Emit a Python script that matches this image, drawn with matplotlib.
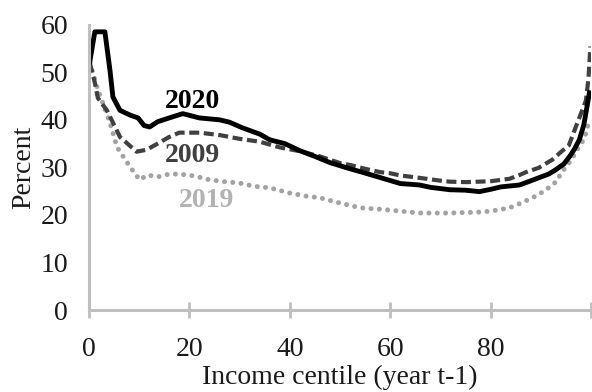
import numpy as np
import matplotlib
matplotlib.use("Agg")
import matplotlib.pyplot as plt

# share of people in each income centile, by year
c2020 = [0.2, 1.2, 3.2, 4.2, 4.8, 6.2, 8.2, 9.8, 11.0, 12.1, 13.7, 16.0, 18.7,
         22.0, 26.0, 28.0, 30.6, 34.0, 36.0, 39.0, 42.0, 45.0, 48.0, 52.0, 55.0,
         58.8, 62.0, 65.8, 68.0, 71.8, 75.0, 77.7, 80.0, 82.0, 85.7, 87.5, 89.5,
         91.5, 92.9, 94.5, 95.6, 96.6, 97.6, 98.5, 99.0, 99.6]
v2020 = [52.2, 58.5, 58.5, 50.5, 44.8, 42.0, 41.0, 40.4, 38.8, 38.5, 39.6, 40.4, 41.3,
         40.4, 40.0, 39.5, 38.3, 37.0, 35.8, 35.0, 33.5, 32.3, 31.0, 29.7, 28.8,
         27.6, 26.6, 26.3, 25.8, 25.3, 25.2, 24.9, 25.4, 25.9, 26.3, 27.0, 27.8,
         28.6, 29.5, 30.7, 32.2, 33.8, 35.8, 39.0, 42.0, 45.7]

c2009 = [0.2, 1.2, 1.8, 3.6, 6.2, 9.5, 11.5, 13.7, 16.0, 18.0, 22.0, 26.0, 28.0,
         30.0, 34.0, 38.0, 42.0, 46.0, 50.0, 52.0, 55.0, 58.0, 59.8, 62.0, 65.8,
         70.0, 71.8, 75.0, 77.7, 80.0, 83.7, 85.7, 87.0, 89.5, 92.2, 94.0, 95.5,
         97.0, 98.9, 99.4, 99.8]
v2009 = [52.0, 47.8, 44.6, 42.0, 36.4, 33.3, 33.7, 35.0, 36.4, 37.3, 37.3, 36.8, 36.4,
         36.0, 35.4, 34.2, 33.4, 32.3, 30.9, 30.5, 29.7, 29.0, 28.8, 28.3, 27.8,
         27.2, 27.0, 26.9, 27.0, 27.1, 27.6, 28.4, 29.0, 29.9, 31.6, 33.3, 34.6,
         38.8, 44.0, 48.5, 55.4]

c2019 = [0.2, 1.6, 4.2, 5.6, 8.2, 10.1, 11.7, 13.7, 16.0, 18.0, 21.0, 24.0, 27.0,
         30.0, 33.0, 36.0, 40.0, 43.0, 46.0, 50.0, 54.0, 58.0, 60.0, 65.8, 71.8,
         77.7, 80.0, 83.7, 86.0, 89.0, 91.0, 93.0, 94.0, 96.0, 97.6, 98.6, 99.6]
v2019 = [52.0, 47.0, 39.4, 34.3, 30.1, 27.4, 28.4, 28.0, 28.6, 28.6, 28.2, 27.4, 27.0,
         26.7, 26.0, 25.7, 24.6, 24.0, 23.6, 22.5, 21.5, 21.2, 21.0, 20.4, 20.4,
         20.6, 20.8, 21.5, 22.5, 24.0, 25.3, 27.0, 28.8, 31.6, 34.5, 36.0, 40.0]

xticks = [0, 20, 40, 60, 80, 100]
xticklabels = ["0", "20", "40", "60", "80", ""]
yticks = [0, 10, 20, 30, 40, 50, 60]

plt.rcParams['font.family'] = ['Liberation Serif', 'DejaVu Serif']

fig = plt.figure(figsize=(5.92, 3.92), dpi=100)
ax = fig.add_axes([0.150, 0.209, 0.849, 0.728])

ax.plot(c2019, v2019, color="#a3a3a3", lw=3.6, linestyle=(0, (0.01, 1.65)),
        dash_capstyle="round", solid_joinstyle="round")
ax.plot(c2009, v2009, color="#404040", lw=3.0, linestyle=(0, (2.4, 1.1)),
        dash_capstyle="butt")
ax.plot(c2020, v2020, color="black", lw=3.5, solid_joinstyle="round")

ax.text(20.7, 43.9, "2020", color="black", fontsize=20, fontweight="bold",
        ha="center", va="center")
ax.text(20.7, 32.5, "2009", color="#404040", fontsize=20, fontweight="bold",
        ha="center", va="center")
ax.text(23.5, 23.1, "2019", color="#b3b3b3", fontsize=20, fontweight="bold",
        ha="center", va="center")

ax.set_xlim(0, 100)
ax.set_ylim(0, 60)
ax.set_xticks(xticks)
ax.set_xticklabels(xticklabels)
ax.set_yticks(yticks)

for side in ["top", "right"]:
    ax.spines[side].set_visible(False)
for side in ["left", "bottom"]:
    ax.spines[side].set_color("#bfbfbf")
    ax.spines[side].set_linewidth(2.2)

ax.tick_params(axis="x", direction="inout", length=11, width=2, color="#bfbfbf",
               labelsize=20, pad=14, labelcolor="#1a1a1a")
ax.tick_params(axis="y", length=0, labelsize=20, pad=15, labelcolor="#1a1a1a")

ax.set_xlabel("Income centile (year t-1)", fontsize=20, color="#1a1a1a", labelpad=2)
ax.set_ylabel("Percent", fontsize=20, color="#1a1a1a", labelpad=3)

fig.savefig("out.png", dpi=100)
